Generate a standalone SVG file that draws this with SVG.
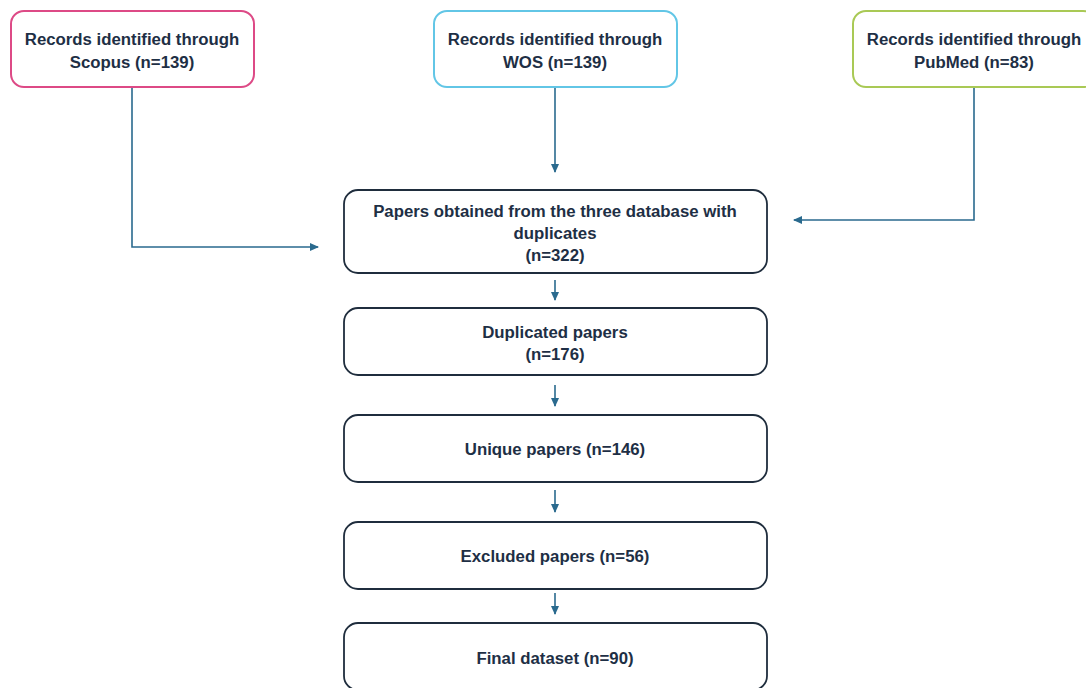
<svg xmlns="http://www.w3.org/2000/svg" width="1086" height="688" viewBox="0 0 1086 688">
<defs>
<style>
.box{fill:#ffffff;stroke:#1f2d3d;stroke-width:1.8}
.src{fill:#ffffff;stroke-width:2}
.t{font-family:"Liberation Sans",Arial,sans-serif;font-weight:bold;font-size:16.8px;fill:#1e2f45;text-anchor:middle}
.c{fill:none;stroke:#2a6a8e;stroke-width:1.6}
</style>
<marker id="ah" markerWidth="10" markerHeight="10" refX="8" refY="5" orient="auto" markerUnits="userSpaceOnUse">
<path d="M0,1 L9,5 L0,9 Z" fill="#2a6a8e"/>
</marker>
</defs>
<rect width="1086" height="688" fill="#ffffff"/>
<g id="connectors">
<path class="c" d="M132,88 V247 H318" marker-end="url(#ah)"/>
<path class="c" d="M555,88 V172" marker-end="url(#ah)"/>
<path class="c" d="M974,88 V220 H794" marker-end="url(#ah)"/>
<path class="c" d="M555,280 V300" marker-end="url(#ah)"/>
<path class="c" d="M555,385 V406" marker-end="url(#ah)"/>
<path class="c" d="M555,490 V512" marker-end="url(#ah)"/>
<path class="c" d="M555,593 V614" marker-end="url(#ah)"/>
</g>
<g id="scopus">
<rect class="src" x="11" y="11" width="243" height="76" rx="13" stroke="#dd4a86"/>
<text class="t" x="132" y="45">Records identified through</text>
<text class="t" x="132" y="68">Scopus (n=139)</text>
</g>
<g id="wos">
<rect class="src" x="434" y="11" width="243" height="76" rx="13" stroke="#62c6e6"/>
<text class="t" x="555" y="45">Records identified through</text>
<text class="t" x="555" y="68">WOS (n=139)</text>
</g>
<g id="pubmed">
<rect class="src" x="853" y="11" width="243" height="76" rx="13" stroke="#a9c955"/>
<text class="t" x="974" y="45">Records identified through</text>
<text class="t" x="974" y="68">PubMed (n=83)</text>
</g>
<g id="combined">
<rect class="box" x="344" y="190" width="423" height="83" rx="14"/>
<text class="t" x="555" y="217">Papers obtained from the three database with</text>
<text class="t" x="555" y="239">duplicates</text>
<text class="t" x="555" y="261">(n=322)</text>
</g>
<g id="duplicated">
<rect class="box" x="344" y="308" width="423" height="67" rx="14"/>
<text class="t" x="555" y="338">Duplicated papers</text>
<text class="t" x="555" y="360">(n=176)</text>
</g>
<g id="unique">
<rect class="box" x="344" y="415" width="423" height="67" rx="14"/>
<text class="t" x="555" y="455">Unique papers (n=146)</text>
</g>
<g id="excluded">
<rect class="box" x="344" y="522" width="423" height="67" rx="14"/>
<text class="t" x="555" y="562">Excluded papers (n=56)</text>
</g>
<g id="final">
<rect class="box" x="344" y="623" width="423" height="67" rx="14"/>
<text class="t" x="555" y="664">Final dataset (n=90)</text>
</g>
</svg>
